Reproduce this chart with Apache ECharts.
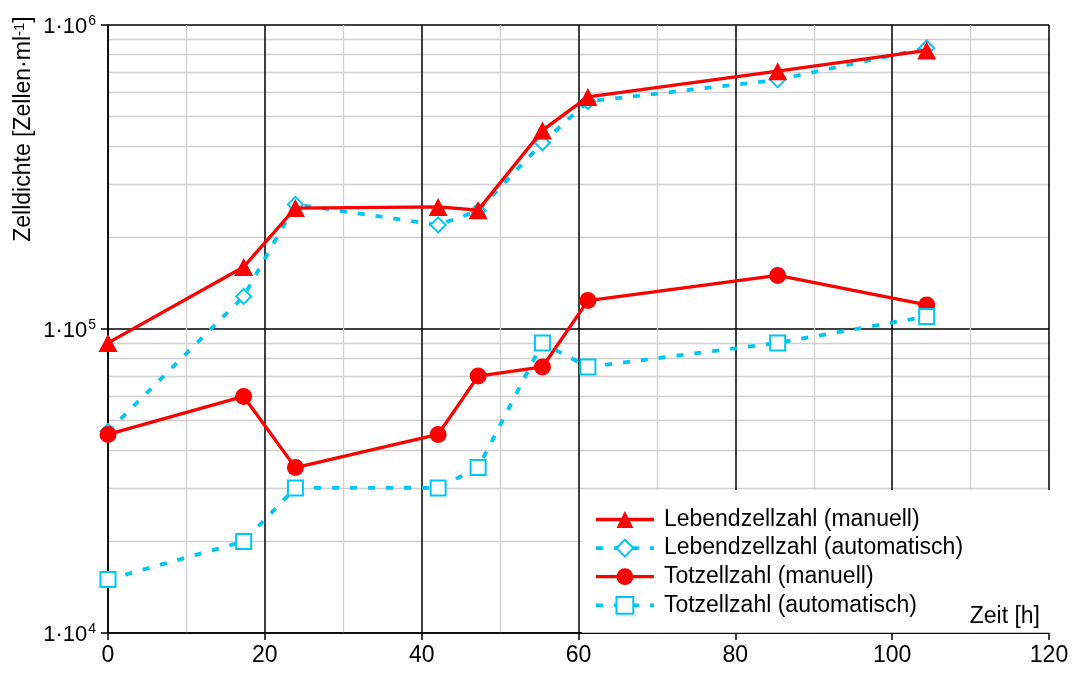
<!DOCTYPE html>
<html>
<head>
<meta charset="utf-8">
<script src="https://cdn.jsdelivr.net/npm/echarts@6/dist/echarts.min.js"></script>
<style>
  html, body { margin: 0; padding: 0; background: #fff; }
  #chart { width: 1080px; height: 675px; }
</style>
</head>
<body>
<div id="chart"></div>
<script>
// Kultivierungszeit in Stunden
const zeit = [0, 17.3, 23.9, 42.1, 47.2, 55.4, 61.2, 85.4, 104.4];

// Zelldichten in Zellen/ml
const lebendManuell     = [9.0e4, 1.6e5, 2.5e5, 2.52e5, 2.46e5, 4.5e5, 5.8e5, 7.05e5, 8.25e5];
const lebendAutomatisch = [4.6e4, 1.28e5, 2.57e5, 2.2e5, 2.45e5, 4.1e5, 5.6e5, 6.6e5, 8.4e5];
const totManuell        = [4.5e4, 6.0e4, 3.5e4, 4.5e4, 7.0e4, 7.5e4, 1.24e5, 1.5e5, 1.2e5];
const totAutomatisch    = [1.5e4, 2.0e4, 3.0e4, 3.0e4, 3.5e4, 9.0e4, 7.5e4, 9.0e4, 1.1e5];

const legendNames = [
  'Lebendzellzahl (manuell)',
  'Lebendzellzahl (automatisch)',
  'Totzellzahl (manuell)',
  'Totzellzahl (automatisch)'
];

const FONT = 'Liberation Sans, Arial, sans-serif';
const RED = '#ff0000';
const CYAN = '#00c6f5';

const pairs = ys => zeit.map((t, i) => [t, ys[i]]);

const solidLine = { color: RED, width: 3.3, type: 'solid' };
const dashedLine = { color: CYAN, width: 3.8, type: [7, 11] };

// Legendeneinträge mit denselben Strichstärken wie die Kurven
const legendItems = legendNames.map((name, i) => {
  const manual = i % 2 === 0;
  return manual
    ? { name, lineStyle: { width: 3.3 }, itemStyle: { borderWidth: 0 } }
    : { name, lineStyle: { width: 3.8, type: [7, 11] }, itemStyle: { borderWidth: 3.5 } };
});

const chart = echarts.init(document.getElementById('chart'), null, { renderer: 'canvas' });

chart.setOption({
  animation: false,
  backgroundColor: '#fff',
  textStyle: { fontFamily: FONT },
  grid: { left: 108, right: 31, top: 25, bottom: 42, containLabel: false },
  title: {
    text: 'Zeit [h]',
    right: 40,
    top: 605,
    padding: 0,
    textStyle: { fontFamily: FONT, fontSize: 23, fontWeight: 'normal', color: '#000' }
  },
  legend: {
    data: legendItems,
    orient: 'vertical',
    left: 582,
    top: 490,
    padding: [18, 90, 16, 12],
    backgroundColor: '#fff',
    itemWidth: 58,
    itemHeight: 21,
    itemGap: 5.6,
    textStyle: { fontFamily: FONT, fontSize: 23, color: '#000', lineHeight: 23, padding: [0, 0, 0, 5] }
  },
  graphic: [{
    type: 'text',
    x: 24,
    y: 129,
    rotation: Math.PI / 2,
    style: {
      text: '{m|Zelldichte [Zellen·ml}{s|-1}{m|]}',
      textAlign: 'center',
      textVerticalAlign: 'middle',
      fill: '#000',
      rich: {
        m: { fontFamily: FONT, fontSize: 23, fill: '#000', lineHeight: 24 },
        s: { fontFamily: FONT, fontSize: 15, fill: '#000', verticalAlign: 'top', padding: [0, 0, 8, 0] }
      }
    }
  }],
  xAxis: {
    type: 'value',
    min: 0,
    max: 120,
    interval: 20,
    axisLine: { show: true, onZero: false, lineStyle: { color: '#000', width: 1.5 } },
    axisTick: { show: true, inside: false, length: 7, lineStyle: { color: '#000', width: 1.5 } },
    axisLabel: { fontFamily: FONT, fontSize: 23, color: '#000', margin: 11 },
    splitLine: { show: true, lineStyle: { color: '#000', width: 1.5 } },
    minorTick: { show: false, splitNumber: 2 },
    minorSplitLine: { show: true, lineStyle: { color: '#d0d0d0', width: 1.3 } }
  },
  yAxis: {
    type: 'log',
    logBase: 10,
    min: 1e4,
    max: 1e6,
    axisLine: { show: true, onZero: false, lineStyle: { color: '#000', width: 1.5 } },
    axisTick: { show: true, inside: false, length: 7, lineStyle: { color: '#000', width: 1.5 } },
    axisLabel: {
      margin: 12,
      formatter: v => '{m|1·10}{s|' + Math.round(Math.log10(v)) + '}',
      rich: {
        m: { fontFamily: FONT, fontSize: 22, color: '#000', lineHeight: 22, padding: [4, 0, 0, 0] },
        s: { fontFamily: FONT, fontSize: 14, color: '#000', verticalAlign: 'top', padding: [0, 0, 8, 1] }
      }
    },
    splitLine: { show: true, lineStyle: { color: '#000', width: 1.5 } },
    minorTick: { show: false, splitNumber: 9 },
    minorSplitLine: { show: true, lineStyle: { color: '#d0d0d0', width: 1.3 } }
  },
  series: [
    {
      name: legendNames[1],
      type: 'line',
      data: pairs(lebendAutomatisch),
      symbol: 'emptyDiamond',
      symbolSize: 15,
      lineStyle: dashedLine,
      itemStyle: { color: CYAN, borderColor: CYAN, borderWidth: 3.5 },
      z: 2
    },
    {
      name: legendNames[0],
      type: 'line',
      data: pairs(lebendManuell),
      symbol: 'triangle',
      symbolSize: [19, 18],
      lineStyle: solidLine,
      itemStyle: { color: RED },
      z: 3
    },
    {
      name: legendNames[2],
      type: 'line',
      data: pairs(totManuell),
      symbol: 'circle',
      symbolSize: 17,
      lineStyle: solidLine,
      itemStyle: { color: RED },
      z: 4
    },
    {
      name: legendNames[3],
      type: 'line',
      data: pairs(totAutomatisch),
      symbol: 'emptyRect',
      symbolSize: 15,
      lineStyle: dashedLine,
      itemStyle: { color: CYAN, borderColor: CYAN, borderWidth: 3.5 },
      z: 5
    }
  ]
});
</script>
</body>
</html>
